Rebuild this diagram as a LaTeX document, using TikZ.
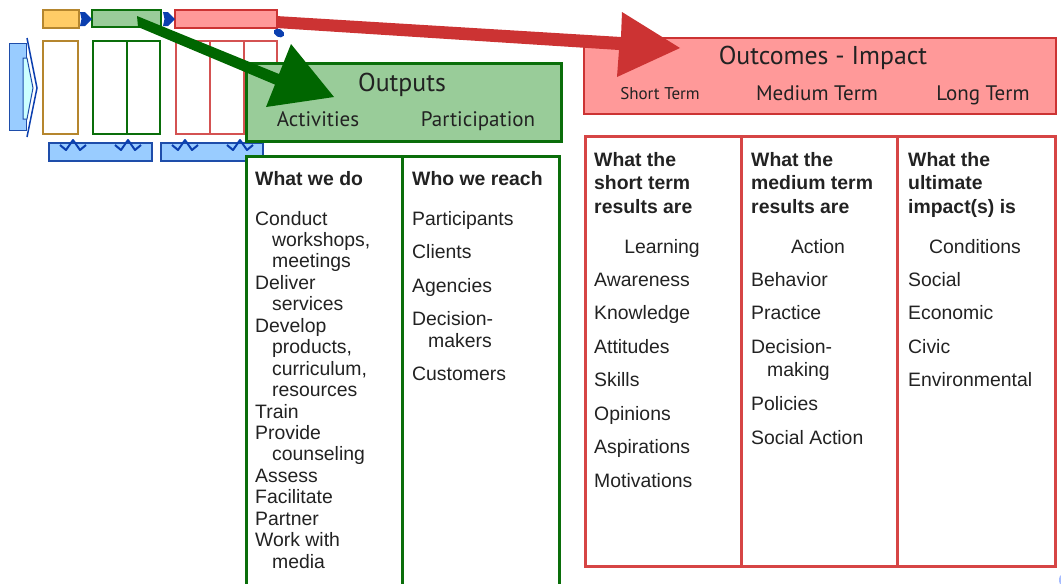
\documentclass[tikz,border=0pt]{standalone}
\usepackage{fontspec}
\setmainfont{Liberation Sans}
\newfontfamily\hdfont{PT Sans}
\definecolor{gfill}{HTML}{99CC99}
\definecolor{gline}{HTML}{0A6E0A}
\definecolor{garrow}{HTML}{006600}
\definecolor{rfill}{HTML}{FF9999}
\definecolor{rline}{HTML}{CC3333}
\definecolor{rarrow}{HTML}{CC3333}
\definecolor{rtab}{HTML}{D64545}
\definecolor{ofill}{HTML}{FFCC66}
\definecolor{oline}{HTML}{B5862E}
\definecolor{bfill}{HTML}{99CCFF}
\definecolor{bline}{HTML}{1E4DAA}
\definecolor{bdark}{HTML}{0B3FAF}
\definecolor{cyanf}{HTML}{CCFFFF}
\definecolor{txt}{HTML}{222222}
\newcommand\bodysz{\fontsize{19.4}{21.45}\selectfont}
\tikzset{
  btxt/.style={anchor=base west, inner sep=0pt, text=txt, font=\bodysz},
  bbold/.style={anchor=base west, inner sep=0pt, text=txt, font=\bodysz\bfseries},
  bctr/.style={anchor=base, inner sep=0pt, text=txt, font=\bodysz},
  htitle/.style={anchor=base, inner sep=0pt, text=txt, font=\hdfont\fontsize{25.8}{26}\selectfont},
  hsub/.style={anchor=base, inner sep=0pt, text=txt, font=\hdfont\fontsize{21}{22}\selectfont},
  hsmall/.style={anchor=base, inner sep=0pt, text=txt, font=\hdfont\fontsize{17}{18}\selectfont},
  greenhdr/.style={draw=gline, fill=gfill, line width=2.5pt, anchor=north west, inner sep=0pt},
  redhdr/.style={draw=rline, fill=rfill, line width=2pt, anchor=north west, inner sep=0pt},
  minib/.style={line width=1.3pt},
}
\begin{document}
\begin{tikzpicture}[x=1pt,y=-1pt]
\useasboundingbox (0,0) rectangle (1061,584);
\clip (0,0) rectangle (1061,584);

% ---------- mini diagram ----------
\draw[minib, draw=oline, fill=ofill] (43,10) rectangle (79,28);
\draw[minib, draw=gline, fill=gfill] (92,10) rectangle (161,27);
\draw[minib, draw=rline, fill=rfill] (175,10) rectangle (277,28);
\fill[bdark] (80,12) -- (85,12) -- (92,19) -- (85,26) -- (80,26) -- (81.5,19) -- cycle;
\fill[bdark] (163,12) -- (168,12) -- (175,19) -- (168,26) -- (163,26) -- (164.5,19) -- cycle;
\fill[bdark, rotate around={-30:(279,33)}] (279,33) ellipse (5.5 and 4);

\draw[minib, draw=oline] (43,41) rectangle (78,134);
\draw[minib, draw=gline] (93,41) rectangle (160,134) (127,41) -- (127,134);
\draw[minib, draw=rline!85] (176,41) rectangle (277,134) (210,41) -- (210,134) (244,41) -- (244,134);

\draw[bline, fill=bfill, line width=1pt] (9,43) rectangle (26,130);
\draw[bline, fill=cyanf, line width=1pt] (23,58) -- (27,58) -- (33,88) -- (27,119) -- (23,119) -- cycle;
\draw[bdark, line width=1.5pt] (27,38) -- (37,88) -- (27,137);

\draw[bline, fill=bfill, line width=1.2pt] (49,143) rectangle (152,161);
\draw[bline, fill=bfill, line width=1.2pt] (161,143) rectangle (263,161);
\foreach \bx in {73,128,185,240}
  \draw[bdark, line width=2pt, line join=round] (\bx-13,145) -- (\bx-7,150) -- (\bx,140) -- (\bx+7,150) -- (\bx+13,145);

% ---------- Outputs ----------
\node[greenhdr, minimum width=315pt, minimum height=78pt] (outhdr) at (245,62) {};
\node[htitle] (outttl) at (402,91) {Outputs};
\node[hsub] (act) at (318,126) {Activities};
\node[hsub] (part) at (478,126) {Participation};

\node[draw=gline, fill=white, line width=3pt, anchor=north west, minimum width=313pt, minimum height=460pt, inner sep=0pt] (outtab) at (245,155) {};
\draw[gline, line width=3pt] (402,155) -- (402,600);

\node[bbold] (wdo) at (255,185) {What we do};
\node[btxt] (l1) at (255,225) {Conduct};
\node[btxt] (l2) at (272,246.45) {workshops,};
\node[btxt] (l3) at (272,267.9) {meetings};
\node[btxt] (l4) at (255,289.35) {Deliver};
\node[btxt] (l5) at (272,310.8) {services};
\node[btxt] (l6) at (255,332.25) {Develop};
\node[btxt] (l7) at (272,353.7) {products,};
\node[btxt] (l8) at (272,375.15) {curriculum,};
\node[btxt] (l9) at (272,396.6) {resources};
\node[btxt] (l10) at (255,418.05) {Train};
\node[btxt] (l11) at (255,439.5) {Provide};
\node[btxt] (l12) at (272,460.95) {counseling};
\node[btxt] (l13) at (255,482.4) {Assess};
\node[btxt] (l14) at (255,503.85) {Facilitate};
\node[btxt] (l15) at (255,525.3) {Partner};
\node[btxt] (l16) at (255,546.75) {Work with};
\node[btxt] (l17) at (272,568.2) {media};

\node[bbold] (wreach) at (412,185) {Who we reach};
\node[btxt] (p1) at (412,225) {Participants};
\node[btxt] (p2) at (412,258.5) {Clients};
\node[btxt] (p3) at (412,292) {Agencies};
\node[btxt] (p4) at (412,325.5) {Decision-};
\node[btxt] (p5) at (428,347) {makers};
\node[btxt] (p6) at (412,380) {Customers};

% ---------- Outcomes ----------
\node[redhdr, minimum width=472pt, minimum height=76pt] (ochdr) at (583,37) {};
\node[htitle] (octtl) at (823,64) {Outcomes - Impact};
\node[hsmall] (sterm) at (660,99) {Short Term};
\node[hsub] (mterm) at (817,100) {Medium Term};
\node[hsub] (lterm) at (983,100) {Long Term};

\node[draw=rtab, line width=3pt, anchor=north west, minimum width=470pt, minimum height=430pt, inner sep=0pt] (octab) at (584,135) {};
\draw[rtab, line width=3pt] (741,135) -- (741,565) (897,135) -- (897,565);

\node[bbold] (s1a) at (594,166) {What the};
\node[bbold] (s1b) at (594,189.5) {short term};
\node[bbold] (s1c) at (594,213) {results are};
\node[bctr] (learn) at (662,253) {Learning};
\node[btxt] (s1) at (594,286) {Awareness};
\node[btxt] (s2) at (594,319.5) {Knowledge};
\node[btxt] (s3) at (594,353) {Attitudes};
\node[btxt] (s4) at (594,386.5) {Skills};
\node[btxt] (s5) at (594,420) {Opinions};
\node[btxt] (s6) at (594,453.5) {Aspirations};
\node[btxt] (s7) at (594,487) {Motivations};

\node[bbold] (m1a) at (751,166) {What the};
\node[bbold] (m1b) at (751,189.5) {medium term};
\node[bbold] (m1c) at (751,213) {results are};
\node[bctr] (action) at (818,253) {Action};
\node[btxt] (m1) at (751,286) {Behavior};
\node[btxt] (m2) at (751,319.5) {Practice};
\node[btxt] (m3) at (751,353) {Decision-};
\node[btxt] (m4) at (767,376) {making};
\node[btxt] (m5) at (751,410.5) {Policies};
\node[btxt] (m6) at (751,444) {Social Action};

\node[bbold] (u1a) at (908,166) {What the};
\node[bbold] (u1b) at (908,189.5) {ultimate};
\node[bbold] (u1c) at (908,213) {impact(s) is};
\node[bctr] (cond) at (975,253) {Conditions};
\node[btxt] (u1) at (908,286) {Social};
\node[btxt] (u2) at (908,319.5) {Economic};
\node[btxt] (u3) at (908,353) {Civic};
\node[btxt] (u4) at (908,386.5) {Environmental};

\fill[bfill!70!blue!60] (1063,580) ellipse (4 and 6);

% ---------- big arrows ----------
\fill[garrow] (137,16) -- (279,74) -- (291,44) -- (334,97) -- (266,107) -- (275,84.6) -- (138,27) -- cycle;
\fill[rarrow] (276,16) -- (621,37) -- (622,12) -- (680,48) -- (617,77) -- (619,50) -- (276,28) -- cycle;
\end{tikzpicture}
\end{document}
